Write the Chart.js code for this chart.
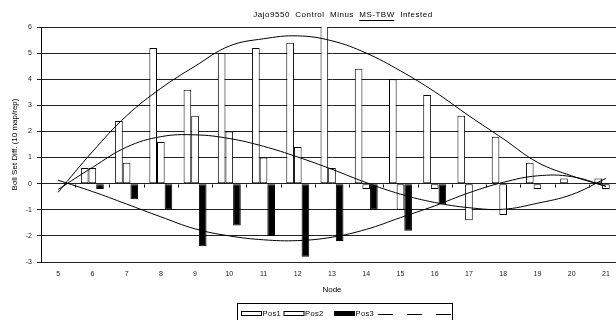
<!DOCTYPE html>
<html><head><meta charset="utf-8">
<script src="https://cdn.jsdelivr.net/npm/chart.js@4"></script>
<style>
html,body{margin:0;padding:0;background:#fff;overflow:hidden;width:616px;height:320px;}
#wrap{position:absolute;left:0;top:0;width:623px;height:320px;}
canvas{display:block;}
</style></head><body>
<div id="wrap"><canvas id="c" width="623" height="320"></canvas></div>
<script>
// ---- data ----
const nodes = ['5','6','7','8','9','10','11','12','13','14','15','16','17','18','19','20','21'];
const pos1  = [0, 0.6, 2.4, 5.2, 3.6, 5.0, 5.2, 5.4, 6.3, 4.4, 4.0, 3.4, 2.6, 1.8, 0.8, 0.2, 0.2];
const pos2  = [0, 0.6, 0.8, 1.6, 2.6, 2.0, 1.0, 1.4, 0.6, -0.2, -1.0, -0.2, -1.4, -1.2, -0.2, 0, -0.2];
const pos3  = [0, -0.2, -0.6, -1.0, -2.4, -1.6, -2.0, -2.8, -2.2, -1.0, -1.8, -0.8, 0, 0, 0, 0, 0];
const trend1 = [-0.33, 1.22, 2.6, 3.65, 4.5, 5.27, 5.55, 5.66, 5.47, 5.0, 4.32, 3.52, 2.6, 1.72, 0.82, 0.3, -0.1];
const trend2 = [-0.22, 0.62, 1.4, 1.8, 1.87, 1.73, 1.43, 1.02, 0.55, 0.04, -0.4, -0.72, -0.92, -0.98, -0.75, -0.42, 0.2];
const trend3 = [0.13, -0.3, -0.78, -1.27, -1.73, -2.0, -2.15, -2.18, -2.05, -1.75, -1.3, -0.85, -0.35, 0.05, 0.3, 0.27, -0.1];
const yTicksMin = -3, yTicksMax = 6;
const titleParts = ['Jajo9550  Control  Minus  ', 'MS-TBW', '  Infested'];
const yTitle = 'Boll Set Diff. (10 map/rep)';
const xTitle = 'Node';
const legendLabels = ['Pos1', 'Pos2', 'Pos3'];

const FONT = '"Liberation Sans", Arial, Helvetica, sans-serif';

const decor = {
  id: 'decor',
  beforeDatasetsDraw(chart) {
    const {ctx, scales: {x, y}} = chart;
    const y0 = Math.round(y.getPixelForValue(0)) + 0.5;
    ctx.save();
    ctx.strokeStyle = '#000'; ctx.lineWidth = 1;
    ctx.beginPath();
    for (let i = 0; i <= nodes.length; i++) {
      const px = Math.round(x.getPixelForValue(i - 0.5)) + 0.5;
      ctx.moveTo(px, y0); ctx.lineTo(px, y0 + 3);
    }
    ctx.stroke();
    ctx.restore();
  },
  afterDraw(chart) {
    const ctx = chart.ctx;
    ctx.save();
    // title with underlined part
    ctx.font = '8px ' + FONT;
    try { ctx.letterSpacing = '0.5px'; } catch(e) {}
    ctx.fillStyle = '#000';
    ctx.textAlign = 'left';
    ctx.textBaseline = 'middle';
    const full = titleParts.join('');
    const tw = ctx.measureText(full).width;
    const x0 = 343 - tw / 2;
    ctx.fillText(full, x0, 15);
    const w0 = ctx.measureText(titleParts[0]).width;
    const w1 = ctx.measureText(titleParts[1]).width;
    ctx.strokeStyle = '#000'; ctx.lineWidth = 1;
    ctx.beginPath();
    ctx.moveTo(x0 + w0, 20.5); ctx.lineTo(x0 + w0 + w1 - 0.5, 20.5);
    ctx.stroke();

    // legend
    ctx.font = '7.5px ' + FONT;
    try { ctx.letterSpacing = '0.4px'; } catch(e) {}
    ctx.strokeRect(237.5, 303.5, 215, 30);
    const sw = [[241, '#fff'], [283.5, '#fff'], [334, '#000']];
    sw.forEach((s, i) => {
      ctx.fillStyle = s[1];
      ctx.fillRect(s[0] + 0.5, 311.5, 20, 4);
      ctx.strokeRect(s[0] + 0.5, 311.5, 20, 4);
      ctx.fillStyle = '#000';
      ctx.fillText(legendLabels[i], s[0] + 21.5, 313.5);
    });
    ctx.setLineDash([15, 14]);
    ctx.beginPath();
    ctx.moveTo(378, 314.5); ctx.lineTo(452, 314.5);
    ctx.stroke();
    ctx.restore();
  }
};

const barBase = {
  type: 'bar', borderColor: '#000', borderWidth: 1, borderSkipped: false,
  categoryPercentage: 0.67, barPercentage: 1, order: 1
};
const lineBase = {
  type: 'line', borderColor: '#000', borderWidth: 1, pointRadius: 0,
  tension: 0.4, fill: false, order: 0
};

new Chart(document.getElementById('c'), {
  type: 'bar',
  data: {
    labels: nodes,
    datasets: [
      Object.assign({label: legendLabels[0], data: pos1, backgroundColor: '#fff'}, barBase),
      Object.assign({label: legendLabels[1], data: pos2, backgroundColor: '#fff'}, barBase),
      Object.assign({label: legendLabels[2], data: pos3, backgroundColor: '#000'}, barBase),
      Object.assign({label: 'trend1', data: trend1}, lineBase),
      Object.assign({label: 'trend2', data: trend2}, lineBase),
      Object.assign({label: 'trend3', data: trend3}, lineBase)
    ]
  },
  options: {
    responsive: false, animation: false, devicePixelRatio: 1,
    layout: {padding: {top: 27, left: 0, right: 0, bottom: 25}},
    plugins: {legend: {display: false}, title: {display: false}, tooltip: {enabled: false}},
    scales: {
      x: {
        type: 'category', offset: true,
        grid: {display: false, drawTicks: false, tickLength: 0}, border: {display: false},
        ticks: {font: {size: 7, family: FONT}, color: '#222', padding: 8, maxRotation: 0, autoSkip: false},
        title: {display: true, text: xTitle, font: {size: 8, family: FONT}, color: '#000', padding: {top: 0, bottom: 0}},
        afterFit(s) { s.height = 33; }
      },
      y: {
        min: yTicksMin, max: yTicksMax,
        ticks: {stepSize: 1, font: {size: 7, family: FONT}, color: '#222', padding: 5},
        grid: {color: '#222', lineWidth: 1, tickLength: 4},
        border: {color: '#000'},
        title: {display: true, text: yTitle, font: {size: 8, family: FONT}, color: '#000', padding: {top: 10, bottom: 0}},
        afterFit(s) { s.width = 41; }
      }
    }
  },
  plugins: [decor]
});
</script>
</body></html>
